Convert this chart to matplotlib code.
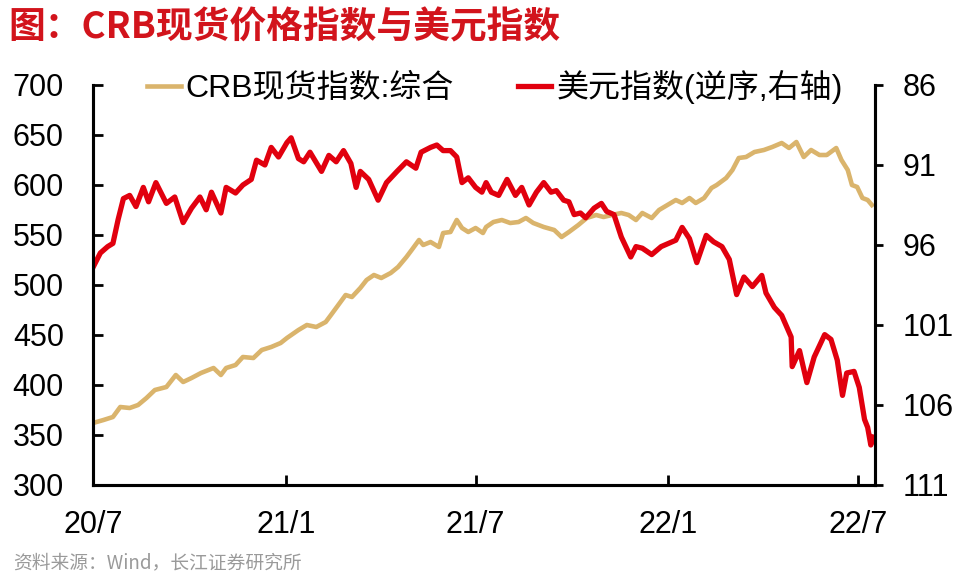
import matplotlib
matplotlib.use("Agg")
import matplotlib.pyplot as plt
import pandas as pd

plt.rcParams['font.family'] = ['Liberation Sans', 'Noto Sans CJK SC', 'Noto Sans CJK JP', 'DejaVu Sans']

# CRB spot index (left axis)
crb_dates = [
    "2020-07-01", "2020-07-11", "2020-07-20", "2020-07-27", "2020-08-05", "2020-08-13",
    "2020-08-21", "2020-08-29", "2020-09-09", "2020-09-18", "2020-09-25", "2020-10-03",
    "2020-10-12", "2020-10-24", "2020-10-31", "2020-11-05", "2020-11-14", "2020-11-21",
    "2020-12-01", "2020-12-09", "2020-12-18", "2020-12-27", "2021-01-02", "2021-01-13",
    "2021-01-21", "2021-01-30", "2021-02-08", "2021-02-13", "2021-02-20", "2021-02-27",
    "2021-03-05", "2021-03-13", "2021-03-19", "2021-03-26", "2021-04-02", "2021-04-11",
    "2021-04-18", "2021-04-26", "2021-05-01", "2021-05-08", "2021-05-12", "2021-05-19",
    "2021-05-27", "2021-05-31", "2021-06-07", "2021-06-13", "2021-06-18", "2021-06-24",
    "2021-07-01", "2021-07-08", "2021-07-11", "2021-07-18", "2021-07-26", "2021-08-03",
    "2021-08-11", "2021-08-18", "2021-08-25", "2021-09-04", "2021-09-14", "2021-09-21",
    "2021-09-28", "2021-10-07", "2021-10-15", "2021-10-24", "2021-10-31", "2021-11-08",
    "2021-11-17", "2021-11-24", "2021-12-01", "2021-12-07", "2021-12-16", "2021-12-23",
    "2021-12-31", "2022-01-08", "2022-01-14", "2022-01-21", "2022-01-27", "2022-02-04",
    "2022-02-11", "2022-02-16", "2022-02-25", "2022-03-03", "2022-03-09", "2022-03-16",
    "2022-03-24", "2022-04-02", "2022-04-10", "2022-04-19", "2022-04-26", "2022-05-03",
    "2022-05-10", "2022-05-17", "2022-05-25", "2022-06-01", "2022-06-10", "2022-06-15",
    "2022-06-21", "2022-06-25", "2022-06-30", "2022-07-05", "2022-07-10", "2022-07-14",
]
crb_values = [
    362, 365, 368, 378, 377, 380, 387, 395, 398, 410, 403, 407,
    412, 417, 410, 417, 420, 428, 427, 435, 438, 442, 447, 455,
    460, 458, 463, 470, 480, 490, 488, 497, 505, 510, 507, 512,
    518, 528, 535, 545, 540, 543, 538, 552, 553, 565, 557, 553,
    557, 552, 558, 563, 565, 562, 563, 567, 562, 558, 555, 548,
    553, 560, 567, 570, 568, 570, 572, 570, 565, 572, 567, 575,
    580, 585, 582, 587, 582, 587, 597, 600, 607, 615, 627, 628,
    633, 635, 638, 642, 637, 643, 628, 635, 630, 630, 637, 625,
    615, 600, 598, 587, 585, 580,
]

# US dollar index (right axis, inverted)
usd_dates = [
    "2020-07-01", "2020-07-08", "2020-07-15", "2020-07-20", "2020-07-25", "2020-07-30",
    "2020-08-05", "2020-08-11", "2020-08-18", "2020-08-23", "2020-08-30", "2020-09-09",
    "2020-09-17", "2020-09-25", "2020-10-03", "2020-10-11", "2020-10-17", "2020-10-22",
    "2020-10-31", "2020-11-05", "2020-11-14", "2020-11-21", "2020-11-29", "2020-12-04",
    "2020-12-12", "2020-12-18", "2020-12-25", "2021-01-02", "2021-01-06", "2021-01-13",
    "2021-01-18", "2021-01-24", "2021-02-04", "2021-02-11", "2021-02-18", "2021-02-25",
    "2021-03-04", "2021-03-09", "2021-03-13", "2021-03-21", "2021-03-30", "2021-04-07",
    "2021-04-17", "2021-04-26", "2021-05-05", "2021-05-10", "2021-05-19", "2021-05-25",
    "2021-05-31", "2021-06-07", "2021-06-13", "2021-06-18", "2021-06-24", "2021-07-01",
    "2021-07-07", "2021-07-11", "2021-07-16", "2021-07-23", "2021-07-31", "2021-08-08",
    "2021-08-14", "2021-08-21", "2021-08-28", "2021-09-04", "2021-09-11", "2021-09-16",
    "2021-09-23", "2021-09-28", "2021-10-03", "2021-10-09", "2021-10-14", "2021-10-22",
    "2021-10-29", "2021-11-03", "2021-11-10", "2021-11-17", "2021-11-26", "2021-12-01",
    "2021-12-07", "2021-12-16", "2021-12-25", "2022-01-01", "2022-01-08", "2022-01-14",
    "2022-01-21", "2022-01-28", "2022-02-06", "2022-02-13", "2022-02-21", "2022-02-28",
    "2022-03-07", "2022-03-14", "2022-03-22", "2022-03-31", "2022-04-04", "2022-04-12",
    "2022-04-19", "2022-04-28", "2022-04-29", "2022-05-06", "2022-05-13", "2022-05-20",
    "2022-05-30", "2022-06-05", "2022-06-11", "2022-06-16", "2022-06-20", "2022-06-27",
    "2022-07-02", "2022-07-07", "2022-07-10", "2022-07-13", "2022-07-15",
]
usd_values = [
    97.4, 96.5, 96.1, 95.9, 94.4, 93.1, 92.9, 93.6, 92.4, 93.3, 92.1, 93.4,
    93.0, 94.6, 93.7, 93.0, 93.8, 92.7, 94.0, 92.4, 92.75, 92.25, 91.9, 90.7,
    91.0, 89.9, 90.5, 89.6, 89.3, 90.6, 90.8, 90.2, 91.4, 90.4, 90.8, 90.1,
    90.9, 92.4, 91.4, 91.9, 93.2, 92.1, 91.4, 90.8, 91.2, 90.2, 89.9, 89.75,
    90.1, 90.1, 90.5, 92.1, 91.8, 92.4, 92.7, 92.1, 92.7, 92.9, 91.9, 92.9,
    92.4, 93.5, 92.7, 92.1, 92.7, 92.6, 93.2, 93.3, 94.1, 94.0, 94.3, 93.7,
    93.4, 93.9, 94.1, 95.5, 96.75, 96.1, 96.2, 96.6, 96.1, 95.9, 95.7, 94.9,
    95.6, 97.1, 95.4, 95.8, 96.1, 96.9, 99.1, 98.0, 98.6, 97.9, 99.0, 99.9,
    100.4, 101.75, 103.6, 102.6, 104.6, 103.0, 101.6, 101.9, 103.2, 105.4, 104.0, 103.9,
    104.9, 106.9, 107.4, 108.5, 108.0,
]

left_ticks = [300, 350, 400, 450, 500, 550, 600, 650, 700]
right_ticks = [86, 91, 96, 101, 106, 111]
x_ticks = ["2020-07-01", "2021-01-01", "2021-07-01", "2022-01-01", "2022-07-01"]
x_labels = ["20/7", "21/1", "21/7", "22/1", "22/7"]

gold = "#DAB46C"
red = "#E1000E"
cjk_font = ['Noto Sans CJK SC', 'Noto Sans CJK JP', 'DejaVu Sans']

fig = plt.figure(figsize=(9.68, 5.79), dpi=100)
ax = fig.add_axes([93 / 968, 1 - 485 / 579, 782 / 968, 400 / 579])
ax2 = ax.twinx()

l1, = ax.plot(pd.to_datetime(crb_dates), crb_values, color=gold, lw=3.3,
              label="CRB现货指数:综合")
l2, = ax2.plot(pd.to_datetime(usd_dates), usd_values, color=red, lw=3.8,
               label="美元指数(逆序,右轴)")

ax.set_ylim(300, 700)
ax.set_yticks(left_ticks)
ax2.set_ylim(111, 86)
ax2.set_yticks(right_ticks)
ax.set_xlim(pd.Timestamp("2020-07-01"), pd.Timestamp("2022-07-17"))
ax.set_xticks(pd.to_datetime(x_ticks))
ax.set_xticklabels(x_labels)

for a in (ax, ax2):
    a.spines['top'].set_visible(False)
    for s in ('left', 'right', 'bottom'):
        a.spines[s].set_linewidth(2.2)
        a.spines[s].set_color('black')
    a.tick_params(axis='both', direction='in', length=7, width=2,
                  labelsize=22, colors='black')
ax.tick_params(axis='x', pad=18)
ax.tick_params(axis='y', pad=21)
ax2.tick_params(axis='y', direction='out', length=6, pad=14)

leg = ax2.legend(handles=[l1, l2], loc='center', bbox_to_anchor=(0.514, 0.995),
                 ncol=2, frameon=False, handlelength=1.05, handletextpad=0.15,
                 columnspacing=2.0, prop={'size': 23})

fig.text(8 / 968, 1 - 28 / 579, "图：CRB现货价格指数与美元指数", color="#D2141C",
         fontsize=26.5, fontweight='heavy', family=cjk_font,
         ha='left', va='center')
fig.text(13 / 968, 1 - 563 / 579, "资料来源：Wind，长江证券研究所", color="#9A9A9A",
         fontsize=13.5, family=cjk_font, ha='left', va='center')

fig.savefig("out.png", dpi=100)
